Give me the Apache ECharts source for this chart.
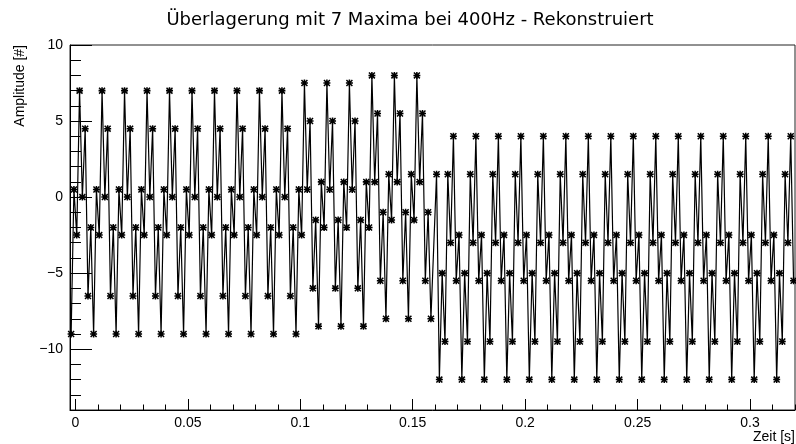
<!DOCTYPE html>
<html>
<head>
<meta charset="utf-8">
<script src="https://cdn.jsdelivr.net/npm/echarts@6/dist/echarts.min.js"></script>
<style>
  html, body { margin: 0; padding: 0; background: #fff; }
  #chart { width: 796px; height: 444px; }
</style>
</head>
<body>
<div id="chart"></div>
<script>
// Reconstructed signal, sampled at 800 Hz, stored per block of samples.
const sampleStep = 0.00125;   // s between samples
const firstSampleTime = -0.0019; // s, time of sample 0

// First block: samples 0..82
const blockA = [
  -9, 0.5, -2.5, 7, 0, 4.5, -6.5, -2,
  -9, 0.5, -2.5, 7, 0, 4.5, -6.5, -2,
  -9, 0.5, -2.5, 7, 0, 4.5, -6.5, -2,
  -9, 0.5, -2.5, 7, 0, 4.5, -6.5, -2,
  -9, 0.5, -2.5, 7, 0, 4.5, -6.5, -2,
  -9, 0.5, -2.5, 7, 0, 4.5, -6.5, -2,
  -9, 0.5, -2.5, 7, 0, 4.5, -6.5, -2,
  -9, 0.5, -2.5, 7, 0, 4.5, -6.5, -2,
  -9, 0.5, -2.5, 7, 0, 4.5, -6.5, -2,
  -9, 0.5, -2.5, 7, 0, 4.5, -6.5, -2,
  -9, 0.5, -2.5
];
// Second block: samples 83..106
const blockB = [
  7.5, 0.5, 5, -6, -1.5, -8.5, 1, -2,
  7.5, 0.5, 5, -6, -1.5, -8.5, 1, -2,
  7.5, 0.5, 5, -6, -1.5, -8.5, 1, -2
];
// Third block: samples 107..128
const blockC = [
  8, 1, 5.5, -5.5, -1, -8, 1.5, -1.5,
  8, 1, 5.5, -5.5, -1, -8, 1.5, -1.5,
  8, 1, 5.5, -5.5, -1, -8
];
// Fourth block: samples 130..257
const blockD = [
  1.5,
  -12, -5, -9.5, 1.5, -3, 4, -5.5, -2.5,
  -12, -5, -9.5, 1.5, -3, 4, -5.5, -2.5,
  -12, -5, -9.5, 1.5, -3, 4, -5.5, -2.5,
  -12, -5, -9.5, 1.5, -3, 4, -5.5, -2.5,
  -12, -5, -9.5, 1.5, -3, 4, -5.5, -2.5,
  -12, -5, -9.5, 1.5, -3, 4, -5.5, -2.5,
  -12, -5, -9.5, 1.5, -3, 4, -5.5, -2.5,
  -12, -5, -9.5, 1.5, -3, 4, -5.5, -2.5,
  -12, -5, -9.5, 1.5, -3, 4, -5.5, -2.5,
  -12, -5, -9.5, 1.5, -3, 4, -5.5, -2.5,
  -12, -5, -9.5, 1.5, -3, 4, -5.5, -2.5,
  -12, -5, -9.5, 1.5, -3, 4, -5.5, -2.5,
  -12, -5, -9.5, 1.5, -3, 4, -5.5, -2.5,
  -12, -5, -9.5, 1.5, -3, 4, -5.5, -2.5,
  -12, -5, -9.5, 1.5, -3, 4, -5.5, -2.5,
  -12, -5, -9.5, 1.5, -3, 4, -5.5
];
const blocks = [blockA, blockB, blockC, blockD];
const blockStartIndex = [0, 83, 107, 130];

// Axis ticks
const xMajorTicks = [0, 0.05, 0.1, 0.15, 0.2, 0.25, 0.3];
const xMinorTicks = [0.01, 0.02, 0.03, 0.04, 0.06, 0.07, 0.08, 0.09, 0.11, 0.12, 0.13, 0.14,
  0.16, 0.17, 0.18, 0.19, 0.21, 0.22, 0.23, 0.24, 0.26, 0.27, 0.28, 0.29, 0.31, 0.32];
const yMajorTicks = [-10, -5, 0, 5, 10];
const yMinorTicks = [-14, -13, -12, -11, -9, -8, -7, -6, -4, -3, -2, -1, 1, 2, 3, 4, 6, 7, 8, 9];

const titleText = 'Überlagerung mit 7 Maxima bei 400Hz - Rekonstruiert';
const xTitle = 'Zeit [s]';
const yTitle = 'Amplitude [#]';

// Build (time, amplitude) pairs
const points = [];
blocks.forEach((blk, b) => {
  blk.forEach((v, i) => {
    const n = blockStartIndex[b] + i;
    points.push([firstSampleTime + n * sampleStep, v]);
  });
});

// Asterisk marker made of four bars
const asterisk = 'path://M0 3.9H10V6.1H0Z M3.9 0H6.1V10H3.9Z M1.5 0L10 8.5L8.5 10L0 1.5Z M8.5 0L10 1.5L1.5 10L0 8.5Z';

const font = 'Liberation Sans, Arial, sans-serif';
const fmtNum = v => (v < 0 ? '\u2212' + Math.abs(v) : String(v));
const noZeroLine = { show: false, onZero: false };

const chart = echarts.init(document.getElementById('chart'), null, { renderer: 'canvas' });
chart.setOption({
  animation: false,
  grid: {
    left: 70, right: 1, top: 45, bottom: 34,
    show: true, borderColor: '#222', borderWidth: 1, backgroundColor: 'transparent'
  },
  xAxis: [
    {
      type: 'value', min: -0.0024, max: 0.32, position: 'bottom',
      axisLine: { show: true, onZero: false, lineStyle: { color: '#000', width: 1 } },
      axisTick: { show: true, inside: true, length: 11, customValues: xMajorTicks, lineStyle: { color: '#000' } },
      axisLabel: { show: true, customValues: xMajorTicks, margin: 6, color: '#000', fontFamily: font, fontSize: 14, formatter: v => String(v) },
      splitLine: { show: false }
    },
    {
      type: 'value', min: -0.0024, max: 0.32, position: 'bottom',
      axisLine: noZeroLine,
      axisTick: { show: true, inside: true, length: 5.5, customValues: xMinorTicks, lineStyle: { color: '#000' } },
      axisLabel: { show: false },
      splitLine: { show: false }
    }
  ],
  yAxis: [
    {
      type: 'value', min: -14, max: 10, position: 'left',
      axisLine: { show: true, onZero: false, lineStyle: { color: '#000', width: 1 } },
      axisTick: { show: true, inside: true, length: 22, customValues: yMajorTicks, lineStyle: { color: '#000' } },
      axisLabel: { show: true, customValues: yMajorTicks, margin: 7, color: '#000', fontFamily: font, fontSize: 14, formatter: fmtNum },
      splitLine: { show: false }
    },
    {
      type: 'value', min: -14, max: 10, position: 'left',
      axisLine: noZeroLine,
      axisTick: { show: true, inside: true, length: 11, customValues: yMinorTicks, lineStyle: { color: '#000' } },
      axisLabel: { show: false },
      splitLine: { show: false }
    }
  ],
  series: [{
    type: 'line',
    xAxisIndex: 0, yAxisIndex: 0,
    data: points,
    symbol: asterisk,
    symbolSize: 7,
    showSymbol: true,
    showAllSymbol: true,
    itemStyle: { color: '#000' },
    lineStyle: { color: '#000', width: 1.2 },
    emphasis: { disabled: true },
    silent: true
  }],
  graphic: [
    {
      type: 'text', x: 410, y: 20,
      style: { text: titleText, fill: '#000', font: '18px "DejaVu Sans"', textAlign: 'center', textVerticalAlign: 'middle' }
    },
    {
      type: 'text', x: 795, y: 437,
      style: { text: xTitle, fill: '#000', font: '14px "Liberation Sans"', textAlign: 'right', textVerticalAlign: 'middle' }
    },
    {
      type: 'text', x: 20, y: 45, rotation: Math.PI / 2,
      style: { text: yTitle, fill: '#000', font: '14px "Liberation Sans"', textAlign: 'right', textVerticalAlign: 'middle' }
    }
  ]
});
</script>
</body>
</html>
